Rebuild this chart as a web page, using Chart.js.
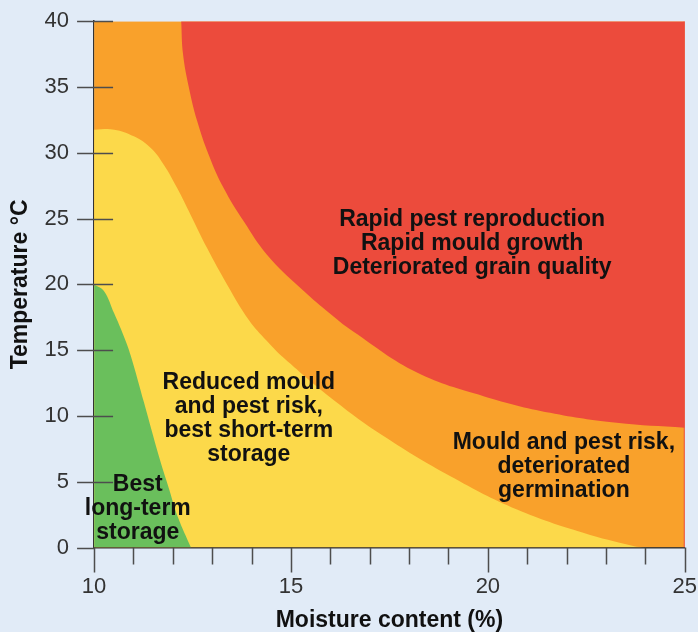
<!DOCTYPE html>
<html>
<head>
<meta charset="utf-8">
<script src="https://cdn.jsdelivr.net/npm/chart.js@4.4.0/dist/chart.umd.min.js"></script>
<style>
  html, body { margin: 0; padding: 0; background: #e1ebf7; }
  #wrap { width: 698px; height: 632px; }
</style>
</head>
<body>
<div id="wrap"><canvas id="grainChart" width="698" height="632"></canvas></div>
<script>
// boundary curves, moisture content (%) vs temperature (°C)
const redMoisture = [12.21, 12.26, 12.41, 12.62, 12.91, 13.29, 13.8, 14.39, 15.24, 15.91, 16.59, 18.2, 19.89, 21.58, 23.27, 25];
const redTemp     = [40, 37.47, 34.93, 32.4, 29.86, 27.32, 24.79, 22.26, 19.72, 17.98, 16.4, 13.3, 11.51, 10.24, 9.48, 9.1];

const yellowMoisture = [10, 10.51, 11.01, 11.44, 11.77, 12.11, 12.45, 12.87, 13.38, 13.93, 14.39, 14.82, 16.09, 17.36, 19.05, 20.74, 22.42, 23.69, 24.0];
const yellowTemp     = [31.76, 31.76, 31.25, 30.37, 29.1, 27.32, 25.3, 22.76, 19.98, 17.3, 15.7, 14.4, 11.2, 8.46, 5.42, 2.89, 1.12, 0.12, 0];

const greenMoisture = [10, 10.25, 10.51, 10.75, 10.93, 11.27, 11.65, 11.9, 12.13, 12.46];
const greenTemp     = [20.0, 19.5, 17.8, 16.1, 14.6, 11.0, 6.9, 4.5, 2.3, 0];

const orangeMoisture = [10, 25];
const orangeTemp     = [40, 40];

const xTickLabels = [10, 15, 20, 25];
const yTickLabels = [0, 5, 10, 15, 20, 25, 30, 35, 40];
const minorXTicks = [11, 12, 13, 14, 16, 17, 18, 19, 21, 22, 23, 24];

const regionText = [
  ['Rapid pest reproduction', 'Rapid mould growth', 'Deteriorated grain quality'],
  ['Reduced mould', 'and pest risk,', 'best short-term', 'storage'],
  ['Mould and pest risk,', 'deteriorated', 'germination'],
  ['Best', 'long-term', 'storage']
];
const regionTextMoisture = [19.6, 13.93, 21.93, 11.11];
const regionTextTemp     = [24.94, 12.55, 7.98, 4.79];

function pts(xs, ys) {
  return xs.map((v, i) => ({ x: v, y: ys[i] }));
}

const axisTicks = {
  id: 'axisTicks',
  afterDatasetsDraw(chart) {
    const { ctx, chartArea } = chart;
    const x = chart.scales.x, y = chart.scales.y;
    ctx.save();
    ctx.strokeStyle = '#4d4d4d';
    ctx.lineWidth = 1.5;
    ctx.beginPath();
    minorXTicks.forEach(v => {
      const px = Math.round(x.getPixelForValue(v)) + 0.5;
      ctx.moveTo(px, chartArea.bottom);
      ctx.lineTo(px, chartArea.bottom + 17);
    });
    xTickLabels.forEach(v => {
      const px = Math.round(x.getPixelForValue(v)) + 0.5;
      ctx.moveTo(px, chartArea.bottom);
      ctx.lineTo(px, chartArea.bottom + 25);
    });
    yTickLabels.forEach(v => {
      const py = Math.round(y.getPixelForValue(v)) + 0.5;
      ctx.moveTo(chartArea.left - 17, py);
      ctx.lineTo(v === 0 ? chartArea.left : chartArea.left + 19, py);
    });
    ctx.stroke();

    // region labels
    ctx.fillStyle = '#111';
    ctx.font = 'bold 23px "Liberation Sans", Arial, sans-serif';
    ctx.textAlign = 'center';
    ctx.textBaseline = 'middle';
    regionText.forEach((lines, i) => {
      const cx = x.getPixelForValue(regionTextMoisture[i]);
      const cy = y.getPixelForValue(regionTextTemp[i]);
      lines.forEach((line, j) => ctx.fillText(line, cx, cy + j * 24));
    });
    ctx.restore();
  }
};

const ctx = document.getElementById('grainChart').getContext('2d');
new Chart(ctx, {
  type: 'line',
  data: {
    datasets: [
      {
        label: 'Best long-term storage',
        data: pts(greenMoisture, greenTemp),
        backgroundColor: '#6abf5c',
        borderColor: '#6abf5c',
        borderWidth: 0,
        fill: 'origin',
        pointRadius: 0,
        tension: 0.4,
        order: 1
      },
      {
        label: 'Reduced mould and pest risk',
        data: pts(yellowMoisture, yellowTemp),
        backgroundColor: '#fcd94a',
        borderColor: '#fcd94a',
        borderWidth: 0,
        fill: 'origin',
        pointRadius: 0,
        tension: 0.4,
        order: 2
      },
      {
        label: 'Rapid pest reproduction',
        data: pts(redMoisture, redTemp),
        backgroundColor: '#ec4b3c',
        borderColor: '#ec4b3c',
        borderWidth: 0,
        fill: 'end',
        pointRadius: 0,
        tension: 0.4,
        order: 3
      },
      {
        label: 'Mould and pest risk',
        data: pts(orangeMoisture, orangeTemp),
        backgroundColor: '#f9a12b',
        borderColor: '#f9a12b',
        borderWidth: 0,
        fill: 'origin',
        pointRadius: 0,
        order: 4
      },
      {
        label: 'edge',
        data: [{ x: 25, y: 0 }, { x: 25, y: 40 }],
        borderColor: '#ec4b3c',
        borderWidth: 2,
        fill: false,
        pointRadius: 0,
        order: 0
      }
    ]
  },
  options: {
    responsive: false,
    animation: false,
    layout: { padding: { top: 15, right: 11, left: 7, bottom: 0 } },
    plugins: {
      legend: { display: false },
      tooltip: { enabled: false }
    },
    scales: {
      x: {
        type: 'linear',
        min: 10,
        max: 25,
        grid: { display: true, drawOnChartArea: false, drawTicks: true, tickLength: 25, tickColor: 'transparent' },
        border: { display: true, color: '#333', width: 1.5 },
        ticks: {
          stepSize: 5,
          padding: 1,
          maxRotation: 0,
          color: '#333',
          font: { family: '"Liberation Sans", Arial, sans-serif', size: 22 }
        },
        title: {
          display: true,
          text: 'Moisture content (%)',
          color: '#111',
          padding: { top: 8, bottom: 0 },
          font: { family: '"Liberation Sans", Arial, sans-serif', size: 23, weight: 'bold', lineHeight: 1 }
        }
      },
      y: {
        min: 0,
        max: 40,
        grid: { display: true, drawOnChartArea: false, drawTicks: true, tickLength: 17, tickColor: 'transparent' },
        border: { display: true, color: '#333', width: 1.5 },
        ticks: {
          stepSize: 5,
          padding: 8,
          color: '#333',
          font: { family: '"Liberation Sans", Arial, sans-serif', size: 22 }
        },
        title: {
          display: true,
          text: 'Temperature °C',
          color: '#111',
          padding: { top: 0, bottom: 2 },
          font: { family: '"Liberation Sans", Arial, sans-serif', size: 23, weight: 'bold' }
        }
      }
    }
  },
  plugins: [axisTicks]
});
</script>
</body>
</html>
